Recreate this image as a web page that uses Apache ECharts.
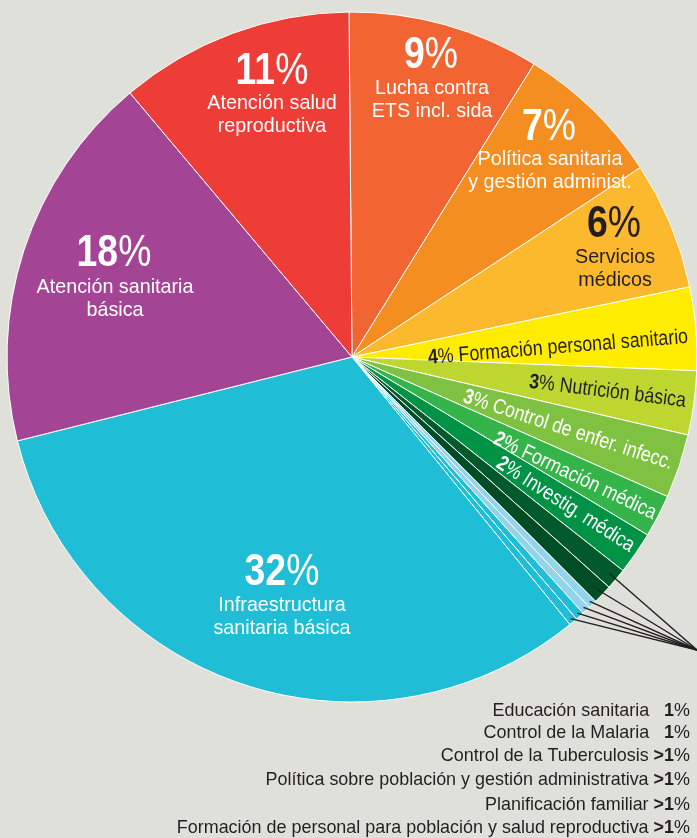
<!DOCTYPE html>
<html><head><meta charset="utf-8">
<script src="https://cdn.jsdelivr.net/npm/echarts@6/dist/echarts.min.js"></script>
<style>html,body{margin:0;padding:0;background:#e0e0db;}#c{width:697px;height:838px;}</style>
</head><body><div id="c"></div>
<script>
// ---- data ----
const categories = [
  'Lucha contra ETS incl. sida',
  'Política sanitaria y gestión administ.',
  'Servicios médicos',
  'Formación personal sanitario',
  'Nutrición básica',
  'Control de enfer. infecc.',
  'Formación médica',
  'Investig. médica',
  'Educación sanitaria',
  'Control de la Malaria',
  'Control de la Tuberculosis',
  'Política sobre población y gestión administrativa',
  'Planificación familiar',
  'Formación de personal para población y salud reproductiva',
  'Infraestructura sanitaria básica',
  'Atención sanitaria básica',
  'Atención salud reproductiva'
];
const values = [9, 6.9, 6, 3.9, 3, 3, 2, 2, 1, 0.9, 0.4, 0.4, 0.4, 0.4, 32, 17.8, 11];
const percentLabels = ['9%','7%','6%','4%','3%','3%','2%','2%','1%','1%','>1%','>1%','>1%','>1%','32%','18%','11%'];
const smallSliceIdx = [8, 9, 10, 11, 12, 13];

// ---- style ----
const colors = ['#f26532','#f48e21','#fdb92e','#ffec00','#bed630','#7fc241','#35b44a','#009245',
  '#005a2b','#004d25','#92d5ea','#92d5ea','#1fbdd6','#1fbdd6','#1fbdd6','#a44495','#ee3d36'];
const FONT = '"Liberation Sans","Arimo","Roboto",sans-serif';
const DARK = '#231f20';
const CX = 352, CY = 357, R = 345;
const START = -0.5; // degrees clockwise from 12 o'clock

const chart = echarts.init(document.getElementById('c'), null, {renderer:'canvas'});

function pctText(p, color, x, y) {
  const m = p.match(/^(>?)(\d+)(%)$/);
  return {type:'text', x, y, z:10, scaleX:0.85, style:{
    text: '{n|' + m[1] + m[2] + '}{p|%}', align:'center', verticalAlign:'middle', fill: color,
    rich:{ n:{fontSize:44, fontWeight:'bold', fontFamily:FONT, fill:color},
           p:{fontSize:44, fontWeight:'normal', fontFamily:FONT, fill:color} }
  }};
}
function descText(t, color, x, y) {
  return {type:'text', x, y, z:10, scaleX:0.94, style:{text:t, align:'center', verticalAlign:'middle',
    fontSize:21, lineHeight:23, fontFamily:FONT, fill:color}};
}
function rotText(i, name, color, x, y, deg) {
  return {type:'text', x, y, z:10, scaleX:0.85, rotation: deg*Math.PI/180, style:{
    text:'{n|' + percentLabels[i].replace('%','') + '}{p|% ' + name + '}', align:'center', verticalAlign:'middle',
    rich:{ n:{fontSize:21, fontWeight:'bold', fontFamily:FONT, fill:color},
           p:{fontSize:21, fontFamily:FONT, fill:color} }
  }};
}

const graphics = [];
// big labels
graphics.push(pctText(percentLabels[16], '#fff', 272, 72));
graphics.push(descText('Atención salud\nreproductiva', '#fff', 272, 115));
graphics.push(pctText(percentLabels[15], '#fff', 114, 254));
graphics.push(descText('Atención sanitaria\nbásica', '#fff', 115, 299));
graphics.push(pctText(percentLabels[0], '#fff', 431, 56));
graphics.push(descText('Lucha contra\nETS incl. sida', '#fff', 432, 100));
graphics.push(pctText(percentLabels[1], '#fff', 549, 128));
graphics.push(descText('Política sanitaria\ny gestión administ.', '#fff', 550, 171));
graphics.push(pctText(percentLabels[2], DARK, 614, 225));
graphics.push(descText('Servicios\nmédicos', DARK, 615, 269));
graphics.push(pctText(percentLabels[14], '#fff', 282, 573));
graphics.push(descText('Infraestructura\nsanitaria básica', '#fff', 282, 617));
// rotated labels
graphics.push(rotText(3, 'Formación personal sanitario', DARK, 558, 347.5, 4.6));
graphics.push(rotText(4, 'Nutrición básica', DARK, 607.5, 391.5, -7));
graphics.push(rotText(5, 'Control de enfer. infecc.', '#fff', 568, 430, -18));
graphics.push(rotText(6, 'Formación médica', '#fff', 575, 476, -25.5));
graphics.push(rotText(7, 'Investig. médica', '#fff', 565.5, 504.5, -32.5));

// pointer lines from small slices to a common point
const total = values.reduce((a,b)=>a+b,0);
const cum = [];
let acc = 0;
values.forEach(v => { cum.push(acc); acc += v; });
const tipR = [336, 338, 341, 341, 341, 341];
const FOCUS = [697, 650];
smallSliceIdx.forEach((idx, k) => {
  const mid = START + (cum[idx] + values[idx]/2) / total * 360;
  const a = mid * Math.PI/180;
  const x = CX + tipR[k]*Math.sin(a), y = CY - tipR[k]*Math.cos(a);
  graphics.push({type:'line', z:10, shape:{x1:x, y1:y, x2:FOCUS[0], y2:FOCUS[1]},
    style:{stroke:'#231f20', lineWidth:1.4}});
});

// bottom list
const listY = [711, 733, 756, 780, 805, 828];
smallSliceIdx.forEach((idx, k) => {
  const p = percentLabels[idx];
  const pre = p.startsWith('>') ? ' ' : '   ';
  graphics.push({type:'text', x:690, y:listY[k], z:10, scaleX:0.97, style:{
    text: '{t|' + categories[idx] + pre + '}{b|' + p.replace('%','') + '}{t|%}',
    align:'right', verticalAlign:'middle',
    rich:{ t:{fontSize:18.5, fontFamily:FONT, fill:DARK},
           b:{fontSize:18.5, fontWeight:'bold', fontFamily:FONT, fill:DARK} }
  }});
});

chart.setOption({
  backgroundColor:'#e0e0db',
  animation:false,
  series:[{
    type:'pie',
    center:[CX, CY],
    radius:[0, R],
    startAngle: 90 - START,
    clockwise:true,
    avoidLabelOverlap:false,
    label:{show:false}, labelLine:{show:false},
    itemStyle:{borderColor:'#ffffff', borderWidth:1},
    emphasis:{disabled:true},
    data: categories.map((c,i)=>({name:c, value:values[i], itemStyle:{color:colors[i]}}))
  }],
  graphic: graphics
});
</script></body></html>
